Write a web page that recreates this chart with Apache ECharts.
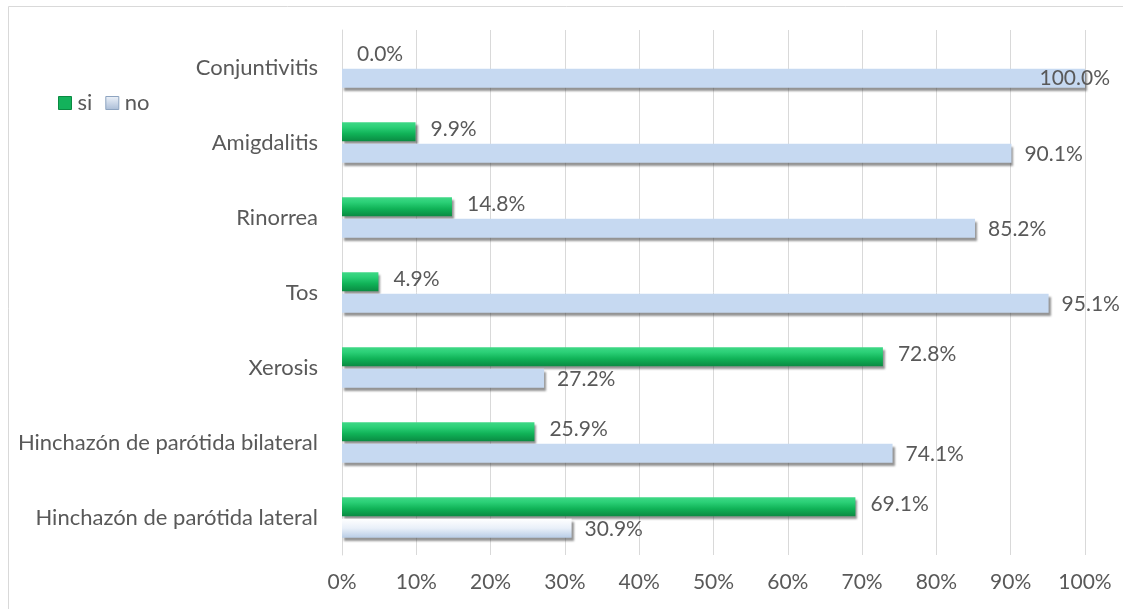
<!DOCTYPE html>
<html>
<head>
<meta charset="utf-8">
<script src="https://cdn.jsdelivr.net/npm/echarts@6/dist/echarts.min.js"></script>
<style>
  html, body { margin: 0; padding: 0; background: #fff; }
  #chart { width: 1123px; height: 609px; }
</style>
</head>
<body>
<div id="chart"></div>
<script>
// Symptom categories, listed top to bottom
const categories = [
  'Conjuntivitis',
  'Amigdalitis',
  'Rinorrea',
  'Tos',
  'Xerosis',
  'Hinchazón de parótida bilateral',
  'Hinchazón de parótida lateral'
];
// Share of patients (%) answering "si" / "no"
const siValues = [0.0, 9.9, 14.8, 4.9, 72.8, 25.9, 69.1];
const noValues = [100.0, 90.1, 85.2, 95.1, 27.2, 74.1, 30.9];
const xTicks = [0, 10, 20, 30, 40, 50, 60, 70, 80, 90, 100];

const FONT = 'Lato, "Open Sans", sans-serif';
const FS_CAT = 22;
const FS_NUM = 21;
const TEXT = '#595959';

const greenFill = new echarts.graphic.LinearGradient(0, 0, 0, 1, [
  { offset: 0, color: '#3fd886' },
  { offset: 0.25, color: '#2bd077' },
  { offset: 0.6, color: '#10b257' },
  { offset: 1, color: '#0a8a42' }
]);
const blueFill = '#c6d9f1';
const paleFill = new echarts.graphic.LinearGradient(0, 0, 0, 1, [
  { offset: 0, color: '#ffffff' },
  { offset: 0.5, color: '#e9f0f9' },
  { offset: 1, color: '#b9cde6' }
]);
const legendNoFill = new echarts.graphic.LinearGradient(0, 0, 0, 1, [
  { offset: 0, color: '#eef3fa' },
  { offset: 1, color: '#a9bcd6' }
]);

const labelFmt = p => p.value.toFixed(1) + '%';

const noData = noValues.map((v, i) => {
  const item = { value: v };
  if (i === 6) item.itemStyle = { color: paleFill };
  if (v >= 100) item.label = { position: 'insideRight', offset: [38, 0] };
  return item;
});

const chart = echarts.init(document.getElementById('chart'), null, { renderer: 'canvas' });
chart.setOption({
  animation: false,
  backgroundColor: '#ffffff',
  textStyle: { fontFamily: FONT },
  graphic: [{
    type: 'rect',
    shape: { x: 8.5, y: 6.5, width: 1200, height: 700 },
    style: { fill: 'none', stroke: '#d9d9d9', lineWidth: 1 },
    silent: true
  }],
  legend: {
    left: 53,
    top: 87,
    itemWidth: 13,
    itemHeight: 13,
    itemGap: 13,
    icon: 'rect',
    textStyle: { fontFamily: FONT, fontSize: FS_CAT, color: TEXT, padding: [0, 0, 0, 1] },
    data: [
      { name: 'si', itemStyle: { color: '#13b25b', borderColor: '#0a8a42', borderWidth: 1 } },
      { name: 'no', itemStyle: { color: legendNoFill, borderColor: '#8ea4c0', borderWidth: 1 } }
    ]
  },
  grid: { left: 342, right: 38, top: 30, bottom: 54, containLabel: false },
  xAxis: {
    type: 'value',
    min: xTicks[0],
    max: xTicks[xTicks.length - 1],
    interval: 10,
    axisLine: { show: false },
    axisTick: { show: false },
    splitLine: { show: true, lineStyle: { color: '#d9d9d9', width: 1 } },
    axisLabel: {
      formatter: v => v + '%',
      fontFamily: FONT, fontSize: FS_NUM, color: TEXT, margin: 17
    }
  },
  yAxis: {
    type: 'category',
    inverse: true,
    data: categories,
    axisLine: { show: true, lineStyle: { color: '#d9d9d9', width: 1 } },
    axisTick: { show: false },
    axisLabel: { fontFamily: FONT, fontSize: FS_CAT, color: TEXT, margin: 24 }
  },
  series: [
    {
      name: 'si',
      type: 'bar',
      data: siValues,
      barWidth: 19,
      barGap: '12%',
      itemStyle: {
        color: greenFill,
        shadowColor: 'rgba(60,60,60,0.55)',
        shadowBlur: 2,
        shadowOffsetX: 2,
        shadowOffsetY: 3
      },
      label: {
        show: true,
        position: 'right',
        distance: 15,
        offset: [0, -3],
        formatter: labelFmt,
        fontFamily: FONT, fontSize: FS_NUM, color: TEXT
      }
    },
    {
      name: 'no',
      type: 'bar',
      data: noData,
      barWidth: 19,
      itemStyle: {
        color: blueFill,
        shadowColor: 'rgba(60,60,60,0.55)',
        shadowBlur: 2,
        shadowOffsetX: 2,
        shadowOffsetY: 3
      },
      label: {
        show: true,
        position: 'right',
        distance: 13,
        offset: [0, 1],
        formatter: labelFmt,
        fontFamily: FONT, fontSize: FS_NUM, color: TEXT
      }
    }
  ]
});
</script>
</body>
</html>
